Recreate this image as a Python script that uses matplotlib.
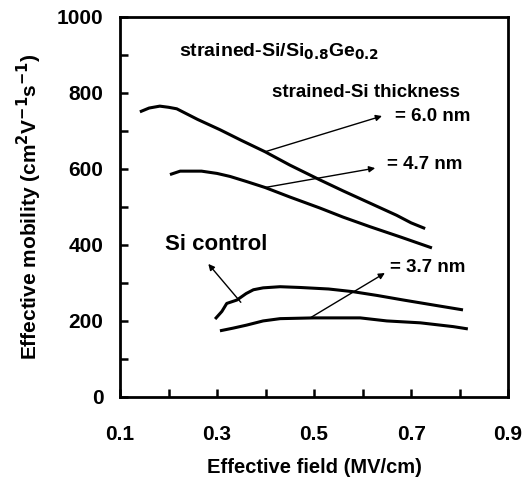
import matplotlib
matplotlib.use("Agg")
import matplotlib.pyplot as plt
from matplotlib.ticker import MultipleLocator

# Effective field (MV/cm) vs effective mobility (cm^2/Vs)
field_60 = [0.141, 0.160, 0.182, 0.200, 0.217, 0.260, 0.306, 0.350, 0.399, 0.450, 0.512, 0.560, 0.615, 0.670, 0.700, 0.729]
mob_60 = [750, 760, 765, 762, 758, 730, 703, 675, 645, 610, 571, 542, 510, 478, 458, 443]

field_47 = [0.203, 0.224, 0.268, 0.300, 0.327, 0.360, 0.399, 0.450, 0.512, 0.560, 0.615, 0.680, 0.743]
mob_47 = [585, 594, 594, 588, 580, 567, 551, 526, 497, 473, 448, 420, 392]

field_si = [0.296, 0.310, 0.320, 0.341, 0.360, 0.375, 0.395, 0.430, 0.471, 0.530, 0.580, 0.630, 0.684, 0.750, 0.807]
mob_si = [205, 225, 246, 255, 272, 282, 287, 290, 288, 284, 277, 267, 255, 241, 229]

field_37 = [0.306, 0.333, 0.361, 0.395, 0.430, 0.500, 0.595, 0.650, 0.719, 0.787, 0.817]
mob_37 = [174, 181, 189, 200, 206, 208, 208, 200, 195, 185, 179]

plt.rcParams['font.family'] = ['Liberation Sans', 'DejaVu Sans']
plt.rcParams['font.weight'] = 'bold'
plt.rcParams['mathtext.default'] = 'bf'

fig = plt.figure(figsize=(5.22, 4.8), dpi=100)
ax = fig.add_axes([0.2299, 0.173, 0.7435, 0.792])

for fx, my in [(field_60, mob_60), (field_47, mob_47), (field_si, mob_si), (field_37, mob_37)]:
    ax.plot(fx, my, color='black', lw=2.2, solid_capstyle='butt')

ax.set_xlim(0.1, 0.9)
ax.set_ylim(0, 1000)
ax.xaxis.set_minor_locator(MultipleLocator(0.1))
ax.yaxis.set_major_locator(MultipleLocator(200))
ax.yaxis.set_minor_locator(MultipleLocator(100))
ax.set_xticks([0.1, 0.3, 0.5, 0.7, 0.9])
ax.set_xticklabels(['0.1', '0.3', '0.5', '0.7', '0.9'])
ax.tick_params(which='both', direction='in', width=1.8, length=6, labelsize=15)
ax.tick_params(axis='x', pad=20)
ax.tick_params(axis='y', pad=12)
for s in ax.spines.values():
    s.set_linewidth(2)

ax.set_xlabel('Effective field (MV/cm)', fontsize=14.5, fontweight='bold', labelpad=10)
ax.set_ylabel('Effective mobility (cm$^{2}$V$^{-1}$s$^{-1}$)',
              fontsize=15, fontweight='bold', labelpad=9)

ax.text(0.222, 908, 'strained-Si/Si$_{0.8}$Ge$_{0.2}$', fontsize=14,
        fontweight='bold', va='center', ha='left')
ax.text(0.607, 800, 'strained-Si thickness', fontsize=13.5, fontweight='bold', va='center', ha='center')
ax.text(0.667, 737, '= 6.0 nm', fontsize=13.5, fontweight='bold', va='center', ha='left')
ax.text(0.650, 611, '= 4.7 nm', fontsize=13.5, fontweight='bold', va='center', ha='left')
ax.text(0.657, 340, '= 3.7 nm', fontsize=13.5, fontweight='bold', va='center', ha='left')
ax.text(0.193, 400, 'Si control', fontsize=16, fontweight='bold', va='center', ha='left')

arrow = dict(arrowstyle='-|>', color='black', lw=1, mutation_scale=9, shrinkA=0, shrinkB=0)
ax.annotate('', xy=(0.640, 739), xytext=(0.399, 645), arrowprops=arrow)
ax.annotate('', xy=(0.626, 602), xytext=(0.399, 551), arrowprops=arrow)
ax.annotate('', xy=(0.646, 326), xytext=(0.492, 208), arrowprops=arrow)
ax.annotate('', xy=(0.282, 350), xytext=(0.349, 249), arrowprops=arrow)

fig.savefig('out.png', dpi=100)
